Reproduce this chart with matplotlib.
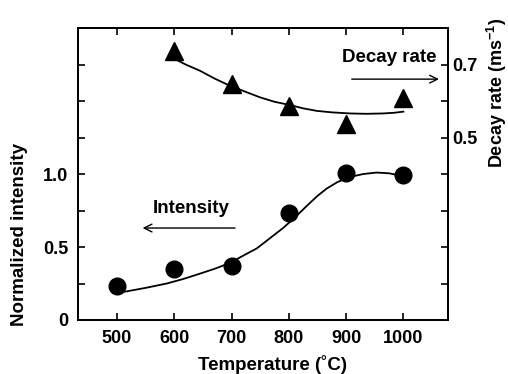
import numpy as np
import matplotlib.pyplot as plt

plt.rcParams['font.family'] = ['Liberation Sans', 'DejaVu Sans']
plt.rcParams['font.weight'] = 'bold'
plt.rcParams['mathtext.fontset'] = 'custom'
plt.rcParams['mathtext.rm'] = 'Liberation Sans:bold'
plt.rcParams['mathtext.bf'] = 'Liberation Sans:bold'

# measured points
temps = [500, 600, 700, 800, 900, 1000]
intensity = [0.23, 0.35, 0.37, 0.73, 1.01, 0.99]
decay_temps = [600, 700, 800, 900, 1000]
decay_rate = [0.738, 0.647, 0.587, 0.537, 0.608]

# fitted curves
fit_i_x = [514, 550, 587, 615, 639, 670, 697, 720, 744, 767, 790, 810, 831,
           850, 866, 885, 907, 930, 953, 975, 994]
fit_i_y = [0.194, 0.22, 0.25, 0.28, 0.31, 0.35, 0.39, 0.44, 0.49, 0.56, 0.63,
           0.70, 0.78, 0.85, 0.90, 0.945, 0.98, 1.0, 1.01, 1.005, 0.99]
fit_d_x = [595, 620, 645, 670, 697, 725, 750, 775, 802, 825, 849, 875, 907,
           935, 965, 985, 1000]
fit_d_y = [0.72, 0.70, 0.683, 0.662, 0.642, 0.625, 0.61, 0.598, 0.589, 0.58,
           0.573, 0.569, 0.566, 0.565, 0.566, 0.568, 0.571]

fig = plt.figure(figsize=(5.08, 3.74), dpi=100)
ax = fig.add_axes([0.1535, 0.1444, 0.7285, 0.7806])
ax2 = ax.twinx()

ax.plot(fit_i_x, fit_i_y, color='black', lw=1.3)
ax.plot(temps, intensity, 'o', color='black', ms=12)
ax2.plot(fit_d_x, fit_d_y, color='black', lw=1.3)
ax2.plot(decay_temps, decay_rate, '^', color='black', ms=13)

ax.set_xlim(432, 1078)
ax.set_ylim(0, 2.0)
ax2.set_ylim(0, 0.8)

ax.set_xticks(temps)
ax.set_xticklabels([str(t) for t in temps], fontsize=13, fontweight='bold')
lt = np.arange(0, 2.01, 0.25)
ax.set_yticks(lt)
ax.set_yticklabels(['0', '', '0.5', '', '1.0', '', '', '', ''], fontsize=13, fontweight='bold')
rt = np.arange(0.1, 0.75, 0.1)
ax2.set_yticks(rt)
ax2.set_yticklabels(['', '', '', '', '0.5', '', '0.7'], fontsize=13, fontweight='bold')

ax.tick_params(direction='in', length=5, width=1.2, top=True, right=False, pad=7)
ax2.tick_params(direction='in', length=5, width=1.2, pad=3)
for a in (ax, ax2):
    for s in a.spines.values():
        s.set_linewidth(1.3)

ax.annotate('', xy=(1067, 1.65), xytext=(905, 1.65),
            arrowprops=dict(arrowstyle='->', color='black', lw=1.0, mutation_scale=14))
ax.text(976, 1.80, 'Decay rate', ha='center', va='center', fontsize=13.5, fontweight='bold')
ax.annotate('', xy=(540, 0.63), xytext=(711, 0.63),
            arrowprops=dict(arrowstyle='->', color='black', lw=1.0, mutation_scale=14))
ax.text(629, 0.767, 'Intensity', ha='center', va='center', fontsize=13.5, fontweight='bold')

fig.text(272 / 508, 1 - 365 / 374, 'Temperature (˚C)', ha='center', va='center',
         fontsize=13.5, fontweight='bold')
fig.text(20 / 508, 1 - 234 / 374, 'Normalized intensity', ha='center', va='center',
         rotation=90, fontsize=13.5, fontweight='bold')
fig.text(497 / 508, 1 - 93 / 374, r'Decay rate (ms$^{-1}$)', ha='center', va='center',
         rotation=90, fontsize=13, fontweight='bold')

fig.savefig('out.png', dpi=100)
